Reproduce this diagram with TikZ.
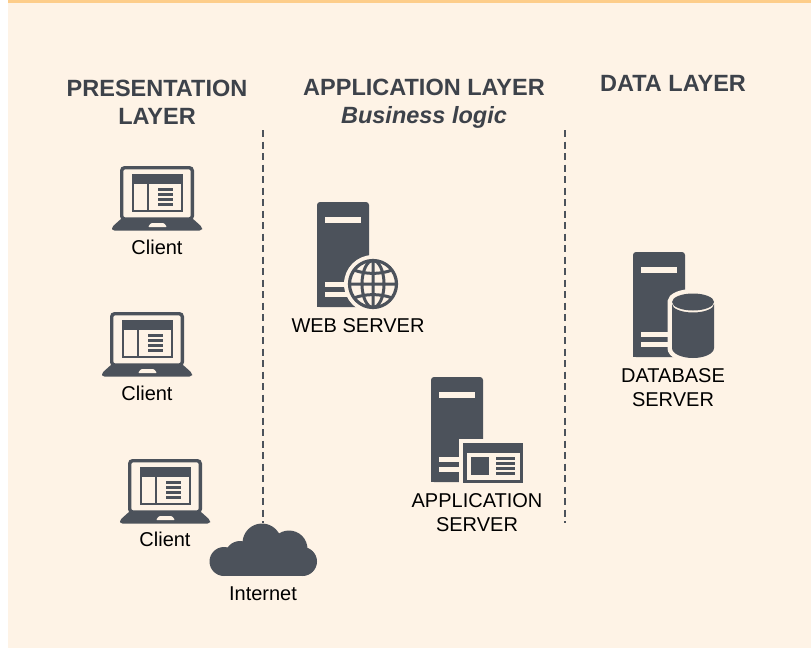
\documentclass[tikz,border=0pt]{standalone}
\usepackage{fontspec}
\setmainfont{Liberation Sans}
\definecolor{iconcol}{HTML}{4C525B}
\definecolor{bgcol}{HTML}{FEF3E6}
\definecolor{barcol}{HTML}{FDCD8A}
\definecolor{titlecol}{HTML}{3D424A}
\tikzset{
  title/.style={font=\fontsize{23.5}{27}\selectfont\bfseries, text=titlecol, align=center, inner sep=0pt},
  label/.style={font=\fontsize{20}{24}\selectfont, text=black, align=center, inner sep=0pt},
  tier/.style={draw=iconcol, line width=1.2pt, dash pattern=on 7pt off 4.5pt},
  laptop/.pic={
    \draw[iconcol, line width=3.4pt, rounded corners=3pt] (1.7,1.7) rectangle (72.3,53);
    \fill[iconcol] (12,8) rectangle (63,46);
    \fill[bgcol] (14,17.5) rectangle (27,44);
    \fill[bgcol] (29,17.5) rectangle (61,44);
    \foreach \y in {22,27,32,37} \fill[iconcol] (38,\y) rectangle (53,\y+3.3);
    \fill[iconcol, rounded corners=2.5pt] (2,52) -- (72,52) -- (82,61) -- (82,64.5) -- (-8,64.5) -- (-8,61) -- cycle;
    \fill[bgcol, rounded corners=1pt] (31,57) -- (44,57) -- (47,61) -- (28,61) -- cycle;
  },
  server/.pic={
    \fill[iconcol, rounded corners=3pt] (0,0) rectangle (52,105);
    \fill[iconcol] (0,95) rectangle (52,105);
    \fill[bgcol] (8,15) rectangle (44,21);
    \fill[bgcol] (8,80) rectangle (44,85);
    \fill[bgcol] (8,90) rectangle (44,95);
  },
}
\begin{document}
\begin{tikzpicture}[x=1pt, y=-1pt]
\useasboundingbox (0,0) rectangle (811,648);
\fill[bgcol] (8,0) rectangle (811,648);
\fill[barcol] (8,0) rectangle (811,3);

% headings
\node[title] (presentation) at (157,102.5) {PRESENTATION\\[1pt]LAYER};
\node[title] (application) at (424,103.5) {APPLICATION LAYER\\[1pt]\itshape Business logic};
\node[title] (data) at (673,83) {DATA LAYER};

% tier separators
\coordinate (leftTop) at (263,130);
\coordinate (leftEnd) at (263,523);
\coordinate (rightTop) at (565,130);
\coordinate (rightEnd) at (565,523);
\draw[tier] (leftTop) -- (leftEnd);
\draw[tier] (rightTop) -- (rightEnd);

% clients
\pic (laptopa) at (120,166) {laptop};
\pic (laptopb) at (110,312) {laptop};
\pic (laptopc) at (128,459) {laptop};
\node[label] (clienta) at (157,247.5) {Client};
\node[label] (clientb) at (147,393.5) {Client};
\node[label] (clientc) at (165,539.5) {Client};

% cloud
\fill[iconcol] (224,561.5) circle[radius=14.5];
\fill[iconcol] (240,556) circle[radius=15];
\fill[iconcol] (262,543) circle[radius=19.5];
\fill[iconcol] (289,549) circle[radius=18.5];
\fill[iconcol] (302.5,561.5) circle[radius=14.5];
\fill[iconcol] (224,550) rectangle (302,576);
\node[label] (internet) at (263,593.5) {Internet};

% web server
\pic (webbox) at (317,202) {server};
\fill[bgcol] (373,284) circle[radius=29];
\draw[iconcol, line width=3.2pt] (373,284) circle[radius=23.5];
\draw[iconcol, line width=3pt] (373,284) ellipse (11 and 23.5) (373,260.5) -- (373,307.5) (349.5,284) -- (396.5,284)
  (354,270) .. controls (365,274.5) and (381,274.5) .. (392,270)
  (354,298) .. controls (365,293.5) and (381,293.5) .. (392,298);
\node[label] (webserver) at (358,325.5) {WEB SERVER};

% application server
\pic (appbox) at (431,377) {server};
\fill[bgcol] (459,439) rectangle (527,487);
\fill[iconcol] (463,443) rectangle (523,483);
\fill[bgcol] (467,453) rectangle (520,480);
\fill[iconcol] (471,457) rectangle (489,475);
\foreach \y in {457,462,467,472} \fill[iconcol] (496,\y) rectangle (515,\y+3);
\node[label] (appserver) at (477,513) {APPLICATION\\SERVER};

% database server
\pic (databox) at (633,252) {server};
\fill[bgcol, draw=bgcol, line width=9pt] (672,302) arc[start angle=180, end angle=360, x radius=21, y radius=8.5] -- (714,348) arc[start angle=0, end angle=180, x radius=21, y radius=10] -- cycle;
\fill[iconcol] (672,304) arc[start angle=180, end angle=360, x radius=21, y radius=-8.5] -- (714,348) arc[start angle=0, end angle=180, x radius=21, y radius=10] -- cycle;
\fill[iconcol] (693,302) ellipse (21 and 8.5);
\node[label] (dbserver) at (673,387.5) {DATABASE\\SERVER};
\end{tikzpicture}
\end{document}
